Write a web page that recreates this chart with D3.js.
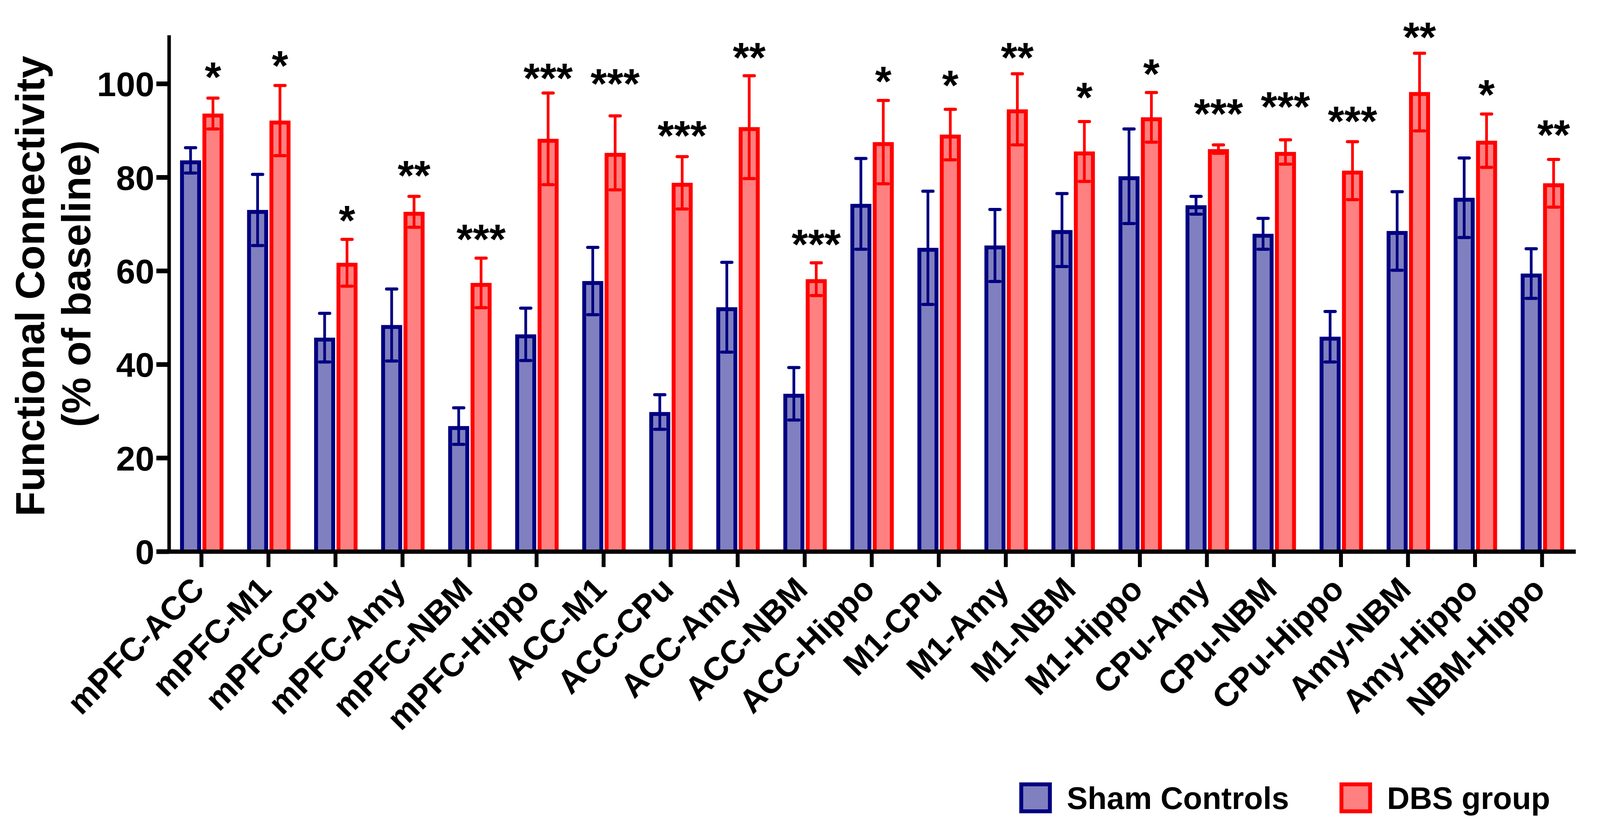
<!DOCTYPE html>
<html>
<head>
<meta charset="utf-8">
<script src="https://cdnjs.cloudflare.com/ajax/libs/d3/7.8.5/d3.min.js"></script>
<style>
    html, body { margin: 0; padding: 0; background: #fff; overflow: hidden; }
    svg { display: block; }
    text { font-family: "Liberation Sans", Arial, Helvetica, sans-serif; font-weight: bold; }
</style>
</head>
<body>
<svg id="chart"></svg>
<script>
var categories = ["mPFC-ACC", "mPFC-M1", "mPFC-CPu", "mPFC-Amy", "mPFC-NBM", "mPFC-Hippo",
    "ACC-M1", "ACC-CPu", "ACC-Amy", "ACC-NBM", "ACC-Hippo",
    "M1-CPu", "M1-Amy", "M1-NBM", "M1-Hippo",
    "CPu-Amy", "CPu-NBM", "CPu-Hippo", "Amy-NBM", "Amy-Hippo", "NBM-Hippo"];

var shamMean = [83.6, 73.0, 45.7, 48.4, 26.8, 46.4, 57.8, 29.8, 52.2, 33.7, 74.3,
    64.9, 65.4, 68.7, 80.2, 74.0, 67.9, 45.9, 68.5, 75.6, 59.4];
var shamSem = [2.7, 7.6, 5.2, 7.7, 3.9, 5.6, 7.2, 3.7, 9.6, 5.6, 9.7,
    12.1, 7.7, 7.8, 10.1, 1.9, 3.3, 5.4, 8.4, 8.5, 5.3];

var dbsMean = [93.6, 92.1, 61.7, 72.6, 57.4, 88.2, 85.2, 78.8, 90.7, 58.2, 87.5,
    89.1, 94.5, 85.5, 92.8, 86.0, 85.4, 81.4, 98.2, 87.8, 78.7];
var dbsSem = [3.3, 7.5, 5.0, 3.3, 5.3, 9.8, 7.9, 5.6, 11.0, 3.5, 8.9,
    5.4, 7.6, 6.4, 5.3, 0.9, 2.6, 6.2, 8.3, 5.7, 5.1];

// significance marks and the height (in % units) where each one sits
var stars = ["*", "*", "*", "**", "***", "***", "***", "***", "**", "***", "*",
    "*", "**", "*", "*", "***", "***", "***", "**", "*", "**"];
var starLevel = [103.3, 105.8, 72.7, 82.3, 68.7, 103.1, 101.9, 90.8, 107.5, 67.6, 102.4,
    101.6, 107.5, 99.0, 104.0, 95.5, 97.0, 93.9, 111.9, 99.6, 91.0];

var yTicks = [0, 20, 40, 60, 80, 100];
var seriesNames = ["Sham Controls", "DBS group"];

// layout was measured on a 4717x2111 picture; the browser may give a narrower
// window, so horizontal positions are scaled to whatever width we get
var refW = 4717,
    refH = 2111,
    width = document.documentElement.clientWidth || refW,
    height = document.documentElement.clientHeight || refH,
    sx = width / refW,
    sy = height / refH;

function hx(v) { return v * sx; }
function vy(v) { return v * sy; }

var axisY = vy(1411),
    axisX = hx(498);

var svg = d3.select("#chart")
    .attr("width", width)
    .attr("height", height);

var x = d3.scaleBand()
    .domain(categories)
    .range([hx(495), hx(4645)])
    .paddingInner(0)
    .paddingOuter(0);

var y = d3.scaleLinear()
    .domain([0, 110])
    .range([axisY, vy(94.3)]);

var series = [
    { name: seriesNames[0], mean: shamMean, sem: shamSem, stroke: "#000080", fill: "#8080c0", left: hx(-63) },
    { name: seriesNames[1], mean: dbsMean, sem: dbsSem, stroke: "#ff0000", fill: "#ff8080", left: hx(3) }
];

var barOuter = hx(62),
    barStroke = 10;

function center(cat) {
    return x(cat) + x.bandwidth() / 2;
}

// bars
series.forEach(function (s) {
    var g = svg.append("g");

    g.selectAll("rect")
        .data(categories)
        .enter()
        .append("rect")
        .attr("x", function (c) { return center(c) + s.left + barStroke / 2; })
        .attr("y", function (c, i) { return y(s.mean[i]) + barStroke / 2; })
        .attr("width", barOuter - barStroke)
        .attr("height", function (c, i) { return axisY - y(s.mean[i]) - barStroke / 2; })
        .attr("fill", s.fill)
        .attr("stroke", s.stroke)
        .attr("stroke-width", barStroke);
});

// error bars
series.forEach(function (s) {
    var g = svg.append("g")
        .attr("stroke", s.stroke)
        .attr("stroke-width", 8);

    var bx = function (c) { return center(c) + s.left + barOuter / 2; };

    g.selectAll("line.stem")
        .data(categories)
        .enter()
        .append("line")
        .attr("class", "stem")
        .attr("stroke-width", 7)
        .attr("x1", bx)
        .attr("x2", bx)
        .attr("y1", function (c, i) { return y(s.mean[i] - s.sem[i]); })
        .attr("y2", function (c, i) { return y(s.mean[i] + s.sem[i]); });

    [1, -1].forEach(function (sign) {
        g.selectAll("line.cap" + sign)
            .data(categories)
            .enter()
            .append("line")
            .attr("stroke-linecap", "round")
            .attr("x1", function (c) { return bx(c) - hx(15); })
            .attr("x2", function (c) { return bx(c) + hx(15); })
            .attr("y1", function (c, i) { return y(s.mean[i] + sign * s.sem[i]); })
            .attr("y2", function (c, i) { return y(s.mean[i] + sign * s.sem[i]); });
    });
});

// asterisks over the DBS bars
svg.append("g")
    .selectAll("text")
    .data(categories)
    .enter()
    .append("text")
    .attr("x", function (c) { return center(c) + series[1].left + barOuter / 2; })
    .attr("y", function (c, i) { return y(starLevel[i]) + vy(60); })
    .attr("text-anchor", "middle")
    .attr("font-size", vy(108))
    .attr("fill", "#000")
    .text(function (c, i) { return stars[i]; });

// y axis
var yAxis = svg.append("g")
    .attr("transform", "translate(" + axisX + ",0)")
    .call(d3.axisLeft(y).tickValues(yTicks).tickSize(hx(37)).tickSizeOuter(0).tickPadding(hx(6)));

yAxis.select(".domain")
    .attr("stroke", "#000")
    .attr("stroke-width", 9)
    .attr("stroke-linecap", "square");
yAxis.selectAll(".tick line")
    .attr("stroke", "#000")
    .attr("stroke-width", 12);
yAxis.selectAll(".tick text")
    .attr("font-size", vy(88))
    .attr("font-family", null)
    .attr("fill", "#000")
    .attr("dy", "0.36em");

// x axis
var xAxis = svg.append("g")
    .attr("transform", "translate(0," + axisY + ")")
    .call(d3.axisBottom(x).tickSize(vy(40)).tickSizeOuter(0));

xAxis.select(".domain")
    .attr("stroke", "#000")
    .attr("stroke-width", 11);
xAxis.selectAll(".tick line")
    .attr("stroke", "#000")
    .attr("stroke-width", 10);
xAxis.selectAll(".tick text")
    .attr("font-size", vy(84))
    .attr("font-family", null)
    .attr("fill", "#000")
    .attr("y", null)
    .attr("dy", null)
    .attr("text-anchor", "end")
    .attr("transform", "translate(" + hx(14) + "," + vy(102) + ") rotate(-45)");

// y axis title
var title = svg.append("g")
    .attr("font-size", vy(104))
    .attr("text-anchor", "middle");

title.append("text")
    .attr("transform", "translate(" + hx(130) + "," + vy(732) + ") rotate(-90)")
    .text("Functional Connectivity");
title.append("text")
    .attr("transform", "translate(" + hx(266) + "," + vy(726) + ") rotate(-90)")
    .text("(% of baseline)");

// legend
var legendX = [3005, 3949];

var legend = svg.append("g")
    .selectAll("g")
    .data(series)
    .enter()
    .append("g")
    .attr("transform", function (s, i) { return "translate(" + hx(legendX[i]) + "," + vy(2002) + ")"; });

legend.append("rect")
    .attr("x", barStroke / 2)
    .attr("y", barStroke / 2)
    .attr("width", hx(96) - barStroke)
    .attr("height", vy(79) - barStroke)
    .attr("fill", function (s) { return s.fill; })
    .attr("stroke", function (s) { return s.stroke; })
    .attr("stroke-width", barStroke);

legend.append("text")
    .attr("x", hx(140))
    .attr("y", vy(68))
    .attr("font-size", vy(80))
    .attr("fill", "#000")
    .text(function (s) { return s.name; });
</script>
</body>
</html>
